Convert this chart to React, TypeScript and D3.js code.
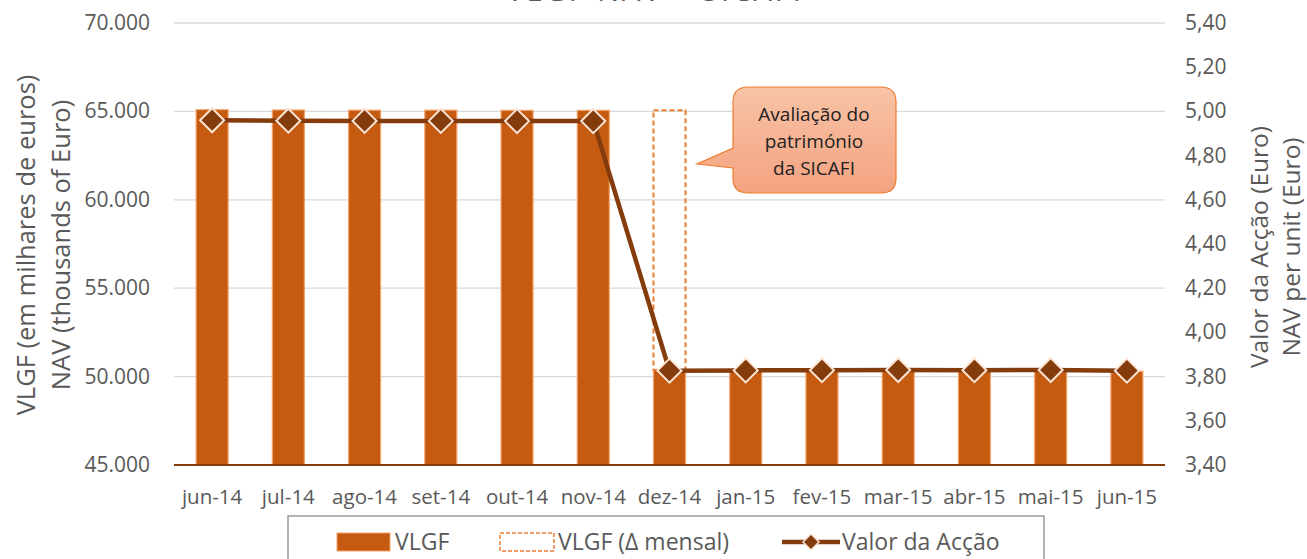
import * as d3 from "d3";

const months = ["jun-14","jul-14","ago-14","set-14","out-14","nov-14","dez-14","jan-15","fev-15","mar-15","abr-15","mai-15","jun-15"];
const vlgf = [65100, 65080, 65070, 65070, 65060, 65060, 50380, 50390, 50400, 50410, 50400, 50410, 50300];
const vlgfDelta = [0, 0, 0, 0, 0, 0, 14680, 0, 0, 0, 0, 0, 0];
const valorAccao = [4.960, 4.958, 4.957, 4.957, 4.956, 4.956, 3.827, 3.828, 3.829, 3.830, 3.829, 3.830, 3.827];
const leftTicks = [45000, 50000, 55000, 60000, 65000, 70000];
const rightTicks = [3.4, 3.6, 3.8, 4.0, 4.2, 4.4, 4.6, 4.8, 5.0, 5.2, 5.4];

const W = 1307, H = 559;
const FONT = "'Open Sans', sans-serif";
const grey = "#595959";

export default function App() {
  const x = d3.scaleBand().domain(months).range([174, 1165]).paddingInner(0.58).paddingOuter(0.29);
  const yL = d3.scaleLinear().domain([45000, 70000]).range([465, 23]);
  const yR = d3.scaleLinear().domain([3.4, 5.4]).range([465, 23]);
  const cx = (m: string) => (x(m) as number) + x.bandwidth() / 2;

  const line = d3.line<number>()
    .x((_, i) => cx(months[i]))
    .y((d) => yR(d));

  const diamond = (px: number, py: number, r: number) =>
    `M${px},${py - r}L${px + r},${py}L${px},${py + r}L${px - r},${py}Z`;

  const fmtL = (v: number) => d3.format(",")(v).replace(",", ".");
  const fmtR = (v: number) => v.toFixed(2).replace(".", ",");

  return (
    <svg width={W} height={H} style={{ position: "absolute", left: 0, top: 0, background: "#fff" }} fontFamily={FONT}>
      <text x={655} y={1} textAnchor="middle" fontSize={29} fill={grey} letterSpacing={3}>VLGF NAV – SICAFI</text>

      {leftTicks.map((t) => (
        <g key={t}>
          {t !== 45000 && <line x1={174} x2={1165} y1={yL(t)} y2={yL(t)} stroke="#D9D9D9" strokeWidth={1.3} />}
          <text x={150} y={yL(t) + 7} textAnchor="end" fontSize={21} fill={grey}>{fmtL(t)}</text>
        </g>
      ))}
      {rightTicks.map((t) => (
        <text key={t} x={1185} y={yR(t) + 7} fontSize={21} fill={grey}>{fmtR(t)}</text>
      ))}

      {months.map((m, i) => (
        <g key={m}>
          <rect x={x(m)} y={yL(vlgf[i])} width={x.bandwidth()} height={yL(45000) - yL(vlgf[i])}
            fill="#C55A11" stroke="#F4A46B" strokeWidth={1.2} />
          {vlgfDelta[i] > 0 && (
            <rect x={x(m)} y={yL(vlgf[i] + vlgfDelta[i])} width={x.bandwidth()}
              height={yL(vlgf[i]) - yL(vlgf[i] + vlgfDelta[i])}
              fill="none" stroke="#ED7D31" strokeWidth={2} strokeDasharray="5,3" />
          )}
          <text x={cx(m)} y={504} textAnchor="middle" fontSize={20.5} fill={grey}>{m}</text>
        </g>
      ))}

      <line x1={174} x2={1165} y1={465} y2={465} stroke="#843C0C" strokeWidth={2} />

      <path d={line(valorAccao) || ""} fill="none" stroke="#843C0C" strokeWidth={4.5} />
      {valorAccao.map((v, i) => (
        <path key={i} d={diamond(cx(months[i]), yR(v), 12)} fill="#843C0C" stroke="#FBE5D6" strokeWidth={2} />
      ))}

      <defs>
        <linearGradient id="cg" x1="0" y1="0" x2="0" y2="1">
          <stop offset="0" stopColor="#F8C3A6" />
          <stop offset="1" stopColor="#F4A381" />
        </linearGradient>
      </defs>
      <path d="M748,87 H881 Q896,87 896,102 V178 Q896,193 881,193 H748 Q733,193 733,178 V168 L697,164 L733,148 V102 Q733,87 748,87 Z"
        fill="url(#cg)" stroke="#ED7D31" strokeWidth={1.2} />
      {["Avaliação do", "património", "da SICAFI"].map((s, i) => (
        <text key={s} x={814} y={121 + i * 27} textAnchor="middle" fontSize={19} fill="#222">{s}</text>
      ))}

      <text transform="translate(35,245) rotate(-90)" textAnchor="middle" fontSize={25.5} fill={grey}>VLGF (em milhares de euros)</text>
      <text transform="translate(70,245) rotate(-90)" textAnchor="middle" fontSize={25.5} fill={grey}>NAV (thousands of Euro)</text>
      <text transform="translate(1268,247) rotate(-90)" textAnchor="middle" fontSize={24.5} fill={grey}>Valor da Acção (Euro)</text>
      <text transform="translate(1300,247) rotate(-90)" textAnchor="middle" fontSize={24.5} fill={grey}>NAV per unit (Euro)</text>

      <rect x={288} y={516} width={756} height={60} fill="#fff" stroke="#8C8C8C" strokeWidth={1.3} />
      <rect x={337} y={533} width={53} height={18} fill="#C55A11" stroke="#F4A46B" strokeWidth={1} />
      <text x={395} y={550} fontSize={23} fill={grey}>VLGF</text>
      <rect x={500} y={533} width={54} height={18} fill="none" stroke="#ED7D31" strokeWidth={1.5} strokeDasharray="4,2" />
      <text x={558} y={550} fontSize={23} fill={grey}>VLGF (Δ mensal)</text>
      <line x1={782} x2={840} y1={542} y2={542} stroke="#843C0C" strokeWidth={4.5} />
      <path d={diamond(811, 542, 8)} fill="#843C0C" stroke="#FBE5D6" strokeWidth={1.5} />
      <text x={842} y={550} fontSize={23} fill={grey}>Valor da Acção</text>
    </svg>
  );
}
